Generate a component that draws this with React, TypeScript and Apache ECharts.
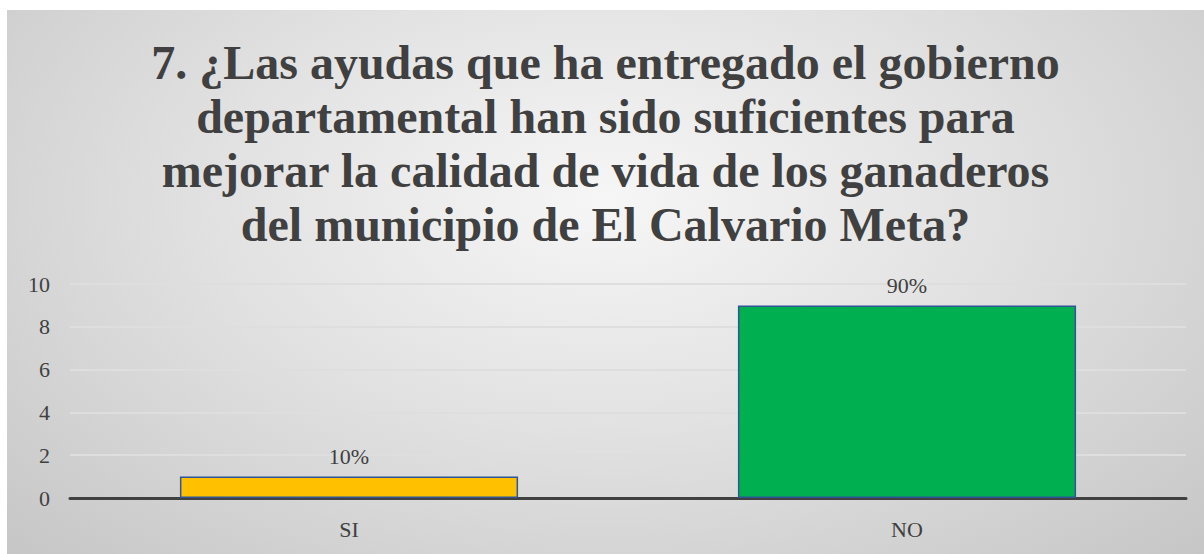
import React, { useEffect, useRef } from "react";
import * as echarts from "echarts";

const categories = ["SI", "NO"];
const counts = [1, 9];
const percentLabels = ["10%", "90%"];
const barColors = ["#FFC000", "#00B050"];
const yTicks = { min: 0, max: 10, interval: 2 };
const titleLines = [
  "7. ¿Las ayudas que ha entregado el gobierno",
  "departamental han sido suficientes para",
  "mejorar la calidad de vida de los ganaderos",
  "del municipio de El Calvario Meta?",
];

const SERIF = "'Liberation Serif', 'Times New Roman', 'DejaVu Serif', serif";

export default function App() {
  const ref = useRef<HTMLDivElement>(null);
  useEffect(() => {
    document.body.style.margin = "0";
    const chart = echarts.init(ref.current!, null, { renderer: "svg" });
    chart.setOption({
      animation: false,
      title: {
        text: titleLines.join("\n"),
        left: "center",
        top: 25,
        padding: 0,
        textStyle: {
          fontFamily: SERIF,
          fontWeight: "bold",
          fontSize: 48,
          lineHeight: 54,
          color: "#404040",
        },
      },
      grid: { left: 63, right: 18, top: 274, bottom: 56 },
      xAxis: {
        type: "category",
        data: categories,
        axisLine: { lineStyle: { color: "#404040", width: 3 } },
        axisTick: { show: false },
        axisLabel: {
          fontFamily: SERIF,
          fontSize: 22,
          color: "#404040",
          margin: 20,
        },
      },
      yAxis: {
        type: "value",
        min: yTicks.min,
        max: yTicks.max,
        interval: yTicks.interval,
        axisLine: { show: false },
        axisTick: { show: false },
        splitLine: { lineStyle: { color: "#dedede", width: 2 } },
        axisLabel: {
          fontFamily: SERIF,
          fontSize: 22,
          color: "#404040",
          margin: 20,
        },
      },
      series: [
        {
          type: "bar",
          barWidth: "60.6%",
          data: counts.map((v, i) => ({
            value: v,
            itemStyle: {
              color: barColors[i],
              borderColor: "#2F5597",
              borderWidth: 1.5,
            },
            label: {
              show: true,
              position: "top",
              formatter: percentLabels[i],
              fontFamily: SERIF,
              fontSize: 22,
              color: "#404040",
              distance: 9,
            },
          })),
        },
      ],
    });
    return () => chart.dispose();
  }, []);
  return (
    <div
      style={{
        position: "absolute",
        left: 7,
        top: 10,
        width: 1197,
        height: 544,
        background:
          "radial-gradient(ellipse at 50% 35%, #f6f6f6 0%, #e2e2e2 45%, #c6c6c6 100%)",
      }}
    >
      <div ref={ref} style={{ width: 1197, height: 544 }} />
    </div>
  );
}
